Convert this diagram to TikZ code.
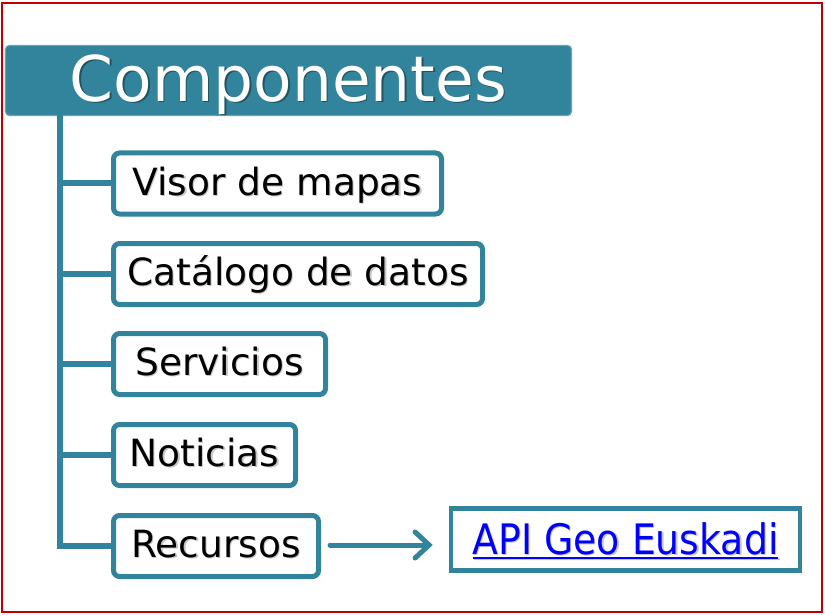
\documentclass[tikz,border=0pt]{standalone}
\usepackage{fontspec}
\setmainfont{DejaVu Sans}
\newfontfamily\linkfont{DejaVu Sans}[FakeStretch=0.9]
\newfontfamily\titlefont{DejaVu Sans}
\usetikzlibrary{arrows.meta}
\definecolor{tealc}{HTML}{31849B}
\definecolor{tealdark}{HTML}{1F5461}
\definecolor{framered}{HTML}{C00000}
\definecolor{linkblue}{HTML}{0000FF}
\newcommand{\shd}[2][black!22]{\makebox[0pt][l]{\hspace{1.3pt}\raisebox{-1.3pt}{\color{#1}#2}}#2}
\newlength\myulw
\newcommand{\myul}[1]{\settowidth\myulw{#1}\makebox[0pt][l]{\rule[-5pt]{\myulw}{2pt}}#1}
\tikzset{
  itembox/.style={draw=tealc, line width=5pt, rounded corners=6pt, fill=white,
    minimum height=61pt, inner sep=0pt, text=black,
    font=\fontsize{37.5}{40}\selectfont, text height=30pt, text depth=7pt},
  linkbox/.style={draw=tealc, line width=4.5pt, fill=white, minimum height=62pt,
    inner sep=0pt, text=linkblue, font=\linkfont\fontsize{42}{44}\selectfont,
    text height=35pt, text depth=6pt},
  titlebox/.style={draw=tealc!75!white, line width=1.2pt, fill=tealc, rounded corners=4pt,
    inner sep=0pt, minimum width=566pt, minimum height=70pt, text=white,
    font=\titlefont\fontsize{63}{66}\selectfont, text height=48pt, text depth=6pt},
  trunk/.style={draw=tealc, line width=6pt},
  arr/.style={draw=tealc, line width=5pt, line cap=round,
    -{Straight Barb[length=14pt,width=26pt,line cap=round]}}
}
\begin{document}
\begin{tikzpicture}[x=1pt,y=-1pt]
\useasboundingbox (0,0) rectangle (825,615);
\fill[white] (0,0) rectangle (825,615);
\draw[framered, line width=1.5pt] (2,3) rectangle (822,612);

\node[titlebox] (title) at (288.5,80.5) {\shd[tealdark]{Componentes}};

\node[itembox, minimum width=328pt] (visor) at (277.5,183.5) {\shd{Visor de mapas}};
\node[itembox, minimum width=369pt] (catalogo) at (298,274) {\shd{Catálogo de datos}};
\node[itembox, minimum width=212pt] (servicios) at (219.5,364) {\shd{Servicios}};
\node[itembox, minimum width=182pt] (noticias) at (204.5,455) {\shd{Noticias}};
\node[itembox, minimum width=205pt] (recursos) at (216,546) {\shd{Recursos}};
\node[linkbox, minimum width=349pt] (api) at (625.5,539.5) {\shd{\myul{API Geo Euskadi}}};

\coordinate (trunktop) at (60,115);
\draw[trunk, line join=miter] (trunktop) -- (trunktop |- recursos.west) -- (recursos.west);
\foreach \n in {visor,catalogo,servicios,noticias}
  \draw[trunk] (trunktop |- \n.west) -- (\n.west);

\draw[arr, shorten <=9pt, shorten >=16pt] (recursos.east |- 0,545) -- (api.west |- 0,545);
\end{tikzpicture}
\end{document}
